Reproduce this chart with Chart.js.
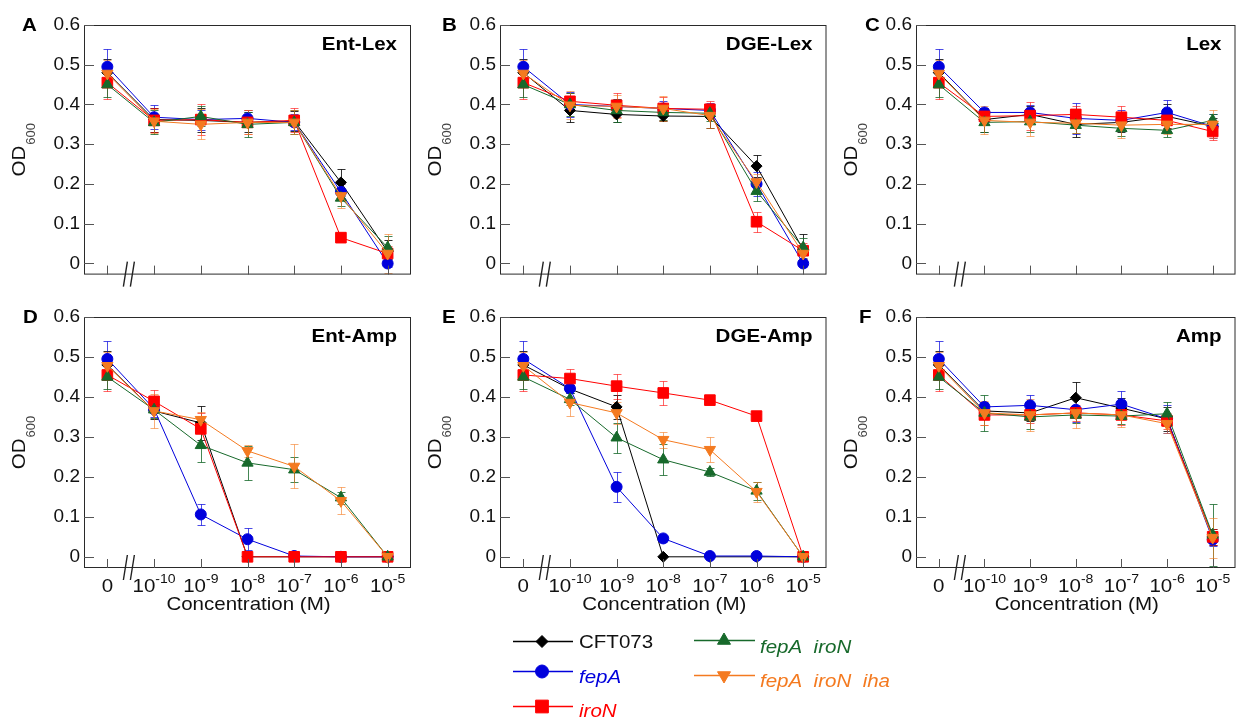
<!DOCTYPE html>
<html><head><meta charset="utf-8">
<script src="https://cdn.jsdelivr.net/npm/chart.js@4.4.0/dist/chart.umd.min.js"></script>
<style>
html,body{margin:0;padding:0;background:#fff;width:1243px;height:719px;overflow:hidden;position:relative}
canvas{position:absolute}
</style></head><body>
<script>
// ---------- DATA ----------
const concLabels = ['0','10^-10','10^-9','10^-8','10^-7','10^-6','10^-5'];
const strainNames = ['CFT073','fepA','iroN','fepA  iroN','fepA  iroN  iha'];
const yTicks = [0,0.1,0.2,0.3,0.4,0.5,0.6];
const panelLetters = ['A','B','C','D','E','F'];
const panelTitles = ['Ent-Lex','DGE-Lex','Lex','Ent-Amp','DGE-Amp','Amp'];
const xAxisTitle = 'Concentration (M)';

// A: Ent-Lex
const entLex_CFT073 = [0.48, 0.362, 0.36, 0.355, 0.358, 0.204, 0.03];
const entLex_fepA   = [0.495, 0.368, 0.362, 0.365, 0.355, 0.18, 0.0];
const entLex_iroN   = [0.455, 0.36, 0.362, 0.355, 0.36, 0.065, 0.025];
const entLex_fepAiroN    = [0.45, 0.355, 0.37, 0.35, 0.355, 0.165, 0.04];
const entLex_fepAiroNiha = [0.478, 0.358, 0.35, 0.355, 0.355, 0.17, 0.025];
const entLex_CFT073_err = [0.035, 0.03, 0.03, 0.025, 0.025, 0.034, 0.03];
const entLex_fepA_err   = [0.044, 0.03, 0.025, 0.02, 0.02, 0.02, 0.01];
const entLex_iroN_err   = [0.04, 0.03, 0.04, 0.03, 0.03, 0.0, 0.02];
const entLex_fepAiroN_err    = [0.03, 0.03, 0.025, 0.032, 0.03, 0.02, 0.028];
const entLex_fepAiroNiha_err = [0.035, 0.03, 0.038, 0.03, 0.03, 0.03, 0.05];

// B: DGE-Lex
const dgeLex_CFT073 = [0.48, 0.385, 0.375, 0.371, 0.37, 0.245, 0.035];
const dgeLex_fepA   = [0.495, 0.40, 0.395, 0.39, 0.385, 0.2, 0.0];
const dgeLex_iroN   = [0.455, 0.408, 0.398, 0.39, 0.388, 0.105, 0.032];
const dgeLex_fepAiroN    = [0.45, 0.40, 0.385, 0.38, 0.378, 0.182, 0.04];
const dgeLex_fepAiroNiha = [0.478, 0.398, 0.395, 0.39, 0.372, 0.205, 0.025];
const dgeLex_CFT073_err = [0.035, 0.03, 0.02, 0.012, 0.03, 0.028, 0.038];
const dgeLex_fepA_err   = [0.044, 0.032, 0.02, 0.02, 0.02, 0.03, 0.01];
const dgeLex_iroN_err   = [0.04, 0.022, 0.03, 0.03, 0.02, 0.025, 0.02];
const dgeLex_fepAiroN_err    = [0.03, 0.03, 0.03, 0.02, 0.02, 0.024, 0.025];
const dgeLex_fepAiroNiha_err = [0.035, 0.035, 0.03, 0.032, 0.03, 0.02, 0.02];

// C: Lex
const lex_CFT073 = [0.48, 0.362, 0.375, 0.35, 0.355, 0.37, 0.345];
const lex_fepA   = [0.495, 0.38, 0.38, 0.365, 0.36, 0.38, 0.345];
const lex_iroN   = [0.455, 0.37, 0.372, 0.375, 0.368, 0.36, 0.332];
const lex_fepAiroN    = [0.45, 0.355, 0.357, 0.348, 0.34, 0.335, 0.36];
const lex_fepAiroNiha = [0.478, 0.36, 0.355, 0.353, 0.348, 0.35, 0.35];
const lex_CFT073_err = [0.035, 0.03, 0.02, 0.032, 0.025, 0.03, 0.02];
const lex_fepA_err   = [0.044, 0.012, 0.018, 0.038, 0.025, 0.032, 0.03];
const lex_iroN_err   = [0.04, 0.02, 0.035, 0.02, 0.027, 0.02, 0.022];
const lex_fepAiroN_err    = [0.03, 0.025, 0.025, 0.02, 0.02, 0.017, 0.015];
const lex_fepAiroNiha_err = [0.035, 0.035, 0.035, 0.025, 0.033, 0.025, 0.035];

// D: Ent-Amp
const entAmp_CFT073 = [0.48, 0.365, 0.335, 0, 0, 0, 0];
const entAmp_fepA   = [0.495, 0.37, 0.106, 0.044, 0.002, 0.0, 0.0];
const entAmp_iroN   = [0.455, 0.389, 0.32, 0, 0, 0, 0];
const entAmp_fepAiroN    = [0.45, 0.368, 0.279, 0.235, 0.218, 0.148, 0.0];
const entAmp_fepAiroNiha = [0.478, 0.365, 0.343, 0.265, 0.226, 0.14, 0.0];
const entAmp_CFT073_err = [0.035, 0.02, 0.043, 0, 0, 0, 0];
const entAmp_fepA_err   = [0.044, 0.02, 0.027, 0.028, 0, 0, 0];
const entAmp_iroN_err   = [0.04, 0.029, 0.04, 0, 0, 0, 0];
const entAmp_fepAiroN_err    = [0.03, 0.02, 0.041, 0.043, 0.032, 0.015, 0];
const entAmp_fepAiroNiha_err = [0.035, 0.042, 0.02, 0.015, 0.055, 0.034, 0];

// E: DGE-Amp
const dgeAmp_CFT073 = [0.48, 0.42, 0.375, 0.0, 0.0, 0.0, 0.0];
const dgeAmp_fepA   = [0.495, 0.421, 0.175, 0.046, 0.002, 0.002, 0.0];
const dgeAmp_iroN   = [0.455, 0.446, 0.427, 0.41, 0.392, 0.352, 0.0];
const dgeAmp_fepAiroN    = [0.45, 0.394, 0.298, 0.243, 0.212, 0.165, 0.0];
const dgeAmp_fepAiroNiha = [0.478, 0.386, 0.36, 0.293, 0.268, 0.163, 0.0];
const dgeAmp_CFT073_err = [0.035, 0.01, 0.03, 0, 0, 0, 0];
const dgeAmp_fepA_err   = [0.044, 0.01, 0.037, 0.008, 0, 0, 0];
const dgeAmp_iroN_err   = [0.04, 0.024, 0.031, 0.03, 0.008, 0.005, 0];
const dgeAmp_fepAiroN_err    = [0.03, 0.015, 0.038, 0.038, 0.01, 0.022, 0];
const dgeAmp_fepAiroNiha_err = [0.035, 0.034, 0.027, 0.02, 0.032, 0.025, 0];

// F: Amp
const amp_CFT073 = [0.48, 0.365, 0.36, 0.398, 0.372, 0.345, 0.05];
const amp_fepA   = [0.495, 0.375, 0.379, 0.368, 0.382, 0.345, 0.043];
const amp_iroN   = [0.455, 0.355, 0.355, 0.36, 0.355, 0.34, 0.05];
const amp_fepAiroN    = [0.45, 0.36, 0.35, 0.355, 0.352, 0.358, 0.055];
const amp_fepAiroNiha = [0.478, 0.36, 0.355, 0.36, 0.355, 0.333, 0.048];
const amp_CFT073_err = [0.035, 0.02, 0.02, 0.04, 0.025, 0.03, 0.02];
const amp_fepA_err   = [0.044, 0.012, 0.026, 0.03, 0.033, 0.035, 0.015];
const amp_iroN_err   = [0.04, 0.025, 0.02, 0.02, 0.025, 0.02, 0.02];
const amp_fepAiroN_err    = [0.03, 0.045, 0.03, 0.02, 0.02, 0.03, 0.078];
const amp_fepAiroNiha_err = [0.035, 0.03, 0.04, 0.038, 0.03, 0.023, 0.05];

const panelSeries = [
  [entLex_CFT073, entLex_fepA, entLex_iroN, entLex_fepAiroN, entLex_fepAiroNiha],
  [dgeLex_CFT073, dgeLex_fepA, dgeLex_iroN, dgeLex_fepAiroN, dgeLex_fepAiroNiha],
  [lex_CFT073, lex_fepA, lex_iroN, lex_fepAiroN, lex_fepAiroNiha],
  [entAmp_CFT073, entAmp_fepA, entAmp_iroN, entAmp_fepAiroN, entAmp_fepAiroNiha],
  [dgeAmp_CFT073, dgeAmp_fepA, dgeAmp_iroN, dgeAmp_fepAiroN, dgeAmp_fepAiroNiha],
  [amp_CFT073, amp_fepA, amp_iroN, amp_fepAiroN, amp_fepAiroNiha]
];
const panelErrors = [
  [entLex_CFT073_err, entLex_fepA_err, entLex_iroN_err, entLex_fepAiroN_err, entLex_fepAiroNiha_err],
  [dgeLex_CFT073_err, dgeLex_fepA_err, dgeLex_iroN_err, dgeLex_fepAiroN_err, dgeLex_fepAiroNiha_err],
  [lex_CFT073_err, lex_fepA_err, lex_iroN_err, lex_fepAiroN_err, lex_fepAiroNiha_err],
  [entAmp_CFT073_err, entAmp_fepA_err, entAmp_iroN_err, entAmp_fepAiroN_err, entAmp_fepAiroNiha_err],
  [dgeAmp_CFT073_err, dgeAmp_fepA_err, dgeAmp_iroN_err, dgeAmp_fepAiroN_err, dgeAmp_fepAiroNiha_err],
  [amp_CFT073_err, amp_fepA_err, amp_iroN_err, amp_fepAiroN_err, amp_fepAiroNiha_err]
];

// ---------- STYLE / LAYOUT ----------
const FONT = '"Liberation Sans", Arial, sans-serif';
const STRETCH = 1.08;
const colors = ['#000000','#0000DC','#FF0000','#17692B','#F47A20'];
const errColors = ['rgba(0,0,0,0.8)','rgba(0,0,220,0.7)','rgba(255,0,0,0.6)','rgba(23,105,43,0.8)','rgba(244,122,32,0.6)'];
const pStyles = ['rectRot','circle','rect','triangle','triangle'];
const pRot = [0,0,0,0,180];
const pRad = [5.5,5.5,7.5,6.5,6.5];

const rows = [{ct:0, ch:290, T:25, B:276}, {ct:290, ch:330, T:317, B:568}];
const cols = [{cl:0, cw:420, L:84, R:411}, {cl:420, cw:415, L:500, R:827}, {cl:835, cw:409, L:916, R:1244}];
const letterX = [22, 442, 865, 23, 442, 859];

function sText(ctx, txt, x, y, align){
  ctx.save(); ctx.translate(x, y); ctx.scale(STRETCH, 1);
  ctx.textAlign = align; ctx.textBaseline = 'alphabetic';
  ctx.fillText(txt, 0, 0); ctx.restore();
}
function drawPow(ctx, label, cx, baseY){
  const parts = label.split('^');
  ctx.font = '19px ' + FONT; const w1 = ctx.measureText(parts[0]).width * STRETCH;
  let w2 = 0;
  if (parts[1]) { ctx.font = '13px ' + FONT; w2 = ctx.measureText(parts[1]).width * STRETCH; }
  const x0 = cx - (w1 + w2) / 2;
  ctx.font = '19px ' + FONT; sText(ctx, parts[0], x0, baseY, 'left');
  if (parts[1]) { ctx.font = '13px ' + FONT; sText(ctx, parts[1], x0 + w1, baseY - 9, 'left'); }
}

function makePanel(idx){
  const row = rows[Math.floor(idx / 3)], col = cols[idx % 3];
  const isBottom = idx >= 3;
  const cv = document.createElement('canvas');
  cv.width = col.cw; cv.height = row.ch;
  cv.style.left = col.cl + 'px'; cv.style.top = row.ct + 'px';
  document.body.appendChild(cv);
  const series = panelSeries[idx], errs = panelErrors[idx];
  const datasets = series.map((vals, s) => ({
    label: strainNames[s],
    data: vals.map((v, i) => ({x: i, y: v})),
    borderColor: colors[s], backgroundColor: colors[s],
    borderWidth: 1, tension: 0, fill: false,
    pointStyle: pStyles[s], rotation: pRot[s], pointRadius: pRad[s],
    pointBorderWidth: 1, pointBorderColor: colors[s], pointBackgroundColor: colors[s],
    order: 5 - s
  }));
  const deco = {
    id: 'deco' + idx,
    beforeDatasetsDraw(chart){
      const ctx = chart.ctx, ys = chart.scales.y, xs = chart.scales.x;
      ctx.save();
      for (let s = 0; s < series.length; s++){
        ctx.strokeStyle = errColors[s]; ctx.lineWidth = 1;
        series[s].forEach((v, i) => {
          const e = errs[s][i]; if (!e) return;
          const x = Math.round(xs.getPixelForValue(i)) + 0.5;
          const y1 = Math.round(ys.getPixelForValue(v + e)) + 0.5;
          const y2 = Math.round(ys.getPixelForValue(v - e)) + 0.5;
          ctx.beginPath();
          ctx.moveTo(x, y1); ctx.lineTo(x, y2);
          ctx.moveTo(x - 4, y1); ctx.lineTo(x + 4, y1);
          ctx.moveTo(x - 4, y2); ctx.lineTo(x + 4, y2);
          ctx.stroke();
        });
      }
      ctx.restore();
    },
    afterDraw(chart){
      const ctx = chart.ctx, ys = chart.scales.y, xs = chart.scales.x, a = chart.chartArea;
      ctx.save();
      // frame
      ctx.strokeStyle = '#2a2a2a'; ctx.lineWidth = 1;
      ctx.strokeRect(a.left + 0.5, a.top + 0.5, a.right - a.left - 1, a.bottom - a.top - 1);
      // inward ticks
      ctx.strokeStyle = '#555'; ctx.beginPath();
      yTicks.forEach(v => { const y = Math.round(ys.getPixelForValue(v)) + 0.5; ctx.moveTo(a.left, y); ctx.lineTo(a.left + 10, y); });
      concLabels.forEach((l, i) => { const x = Math.round(xs.getPixelForValue(i)) + 0.5; ctx.moveTo(x, a.bottom); ctx.lineTo(x, a.bottom - 9); });
      ctx.stroke();
      // axis break mark
      const bx = xs.getPixelForValue(0.45);
      ctx.strokeStyle = '#222'; ctx.lineWidth = 1.4; ctx.beginPath();
      ctx.moveTo(bx - 5, a.bottom + 12); ctx.lineTo(bx - 1, a.bottom - 13);
      ctx.moveTo(bx + 2, a.bottom + 12); ctx.lineTo(bx + 6, a.bottom - 13);
      ctx.stroke();
      ctx.fillStyle = '#111';
      // x tick labels & title
      if (isBottom){
        concLabels.forEach((l, i) => drawPow(ctx, l, xs.getPixelForValue(i), a.bottom + 24));
        ctx.font = '19px ' + FONT;
        sText(ctx, xAxisTitle, (a.left + Math.min(a.right, 1243 - col.cl)) / 2 + 1, a.bottom + 42, 'center');
      }
      // y title OD600
      ctx.save();
      ctx.translate(a.left - 59, (a.top + a.bottom) / 2);
      ctx.rotate(-Math.PI / 2);
      ctx.scale(STRETCH, 1);
      ctx.textAlign = 'left'; ctx.textBaseline = 'alphabetic';
      ctx.font = '19px ' + FONT; const wOD = ctx.measureText('OD').width;
      ctx.font = '12px ' + FONT; const wSub = ctx.measureText('600').width;
      const sx = -(wOD + wSub + 1) / 2;
      ctx.font = '19px ' + FONT; ctx.fillStyle = '#111'; ctx.fillText('OD', sx, 0);
      ctx.font = '12px ' + FONT; ctx.fillStyle = '#444'; ctx.fillText('600', sx + wOD + 1, 10);
      ctx.restore();
      // panel letter
      ctx.fillStyle = '#000';
      ctx.font = 'bold 19px ' + FONT;
      sText(ctx, panelLetters[idx], letterX[idx] - col.cl, a.top + 6, 'left');
      // panel title
      const tr = Math.min(a.right, 1243 - col.cl) - 14;
      sText(ctx, panelTitles[idx], tr, a.top + 25, 'right');
      ctx.restore();
    }
  };
  new Chart(cv, {
    type: 'line',
    data: {datasets},
    options: {
      responsive: false, animation: false, devicePixelRatio: 1, events: [],
      layout: {padding: {left: 0, top: row.T - row.ct, right: (col.cl + col.cw) - col.R, bottom: (row.ct + row.ch) - row.B}},
      plugins: {legend: {display: false}, tooltip: {enabled: false}},
      scales: {
        x: {type: 'linear', min: -0.5, max: 6.5, display: false},
        y: {
          type: 'linear', min: -0.028, max: 0.6,
          afterBuildTicks: ax => { ax.ticks = yTicks.map(v => ({value: v})); },
          afterFit: sc => { sc.width = col.L - col.cl; },
          grid: {display: false, drawTicks: false}, border: {display: false},
          ticks: {font: {family: FONT, size: 19}, color: '#111', padding: 4,
                  callback: v => (v === 0 ? '0' : v.toFixed(1))}
        }
      }
    },
    plugins: [deco]
  });
}
for (let i = 0; i < 6; i++) makePanel(i);

// ---------- LEGEND ----------
function drawMarker(ctx, style, x, y, r, rot){
  ctx.beginPath();
  if (style === 'circle') ctx.arc(x, y, r, 0, Math.PI * 2);
  else if (style === 'rect') { const s = r * Math.SQRT1_2; ctx.rect(x - s, y - s, 2 * s, 2 * s); }
  else if (style === 'rectRot') { ctx.moveTo(x - r, y); ctx.lineTo(x, y - r); ctx.lineTo(x + r, y); ctx.lineTo(x, y + r); ctx.closePath(); }
  else if (style === 'triangle') {
    let rad = rot * Math.PI / 180;
    ctx.moveTo(x + Math.sin(rad) * r, y - Math.cos(rad) * r);
    rad += 2 * Math.PI / 3; ctx.lineTo(x + Math.sin(rad) * r, y - Math.cos(rad) * r);
    rad += 2 * Math.PI / 3; ctx.lineTo(x + Math.sin(rad) * r, y - Math.cos(rad) * r);
    ctx.closePath();
  }
  ctx.fill(); ctx.stroke();
}
(function(){
  const LX = 500, LY = 620;
  const cv = document.createElement('canvas');
  cv.width = 420; cv.height = 99; cv.style.left = LX + 'px'; cv.style.top = LY + 'px';
  document.body.appendChild(cv);
  const ctx = cv.getContext('2d');
  const pos = [
    {x1: 513, x2: 573, mx: 542, y: 641, tx: 579, tb: 648},
    {x1: 513, x2: 573, mx: 542, y: 671, tx: 579, tb: 683},
    {x1: 513, x2: 573, mx: 542, y: 706, tx: 579, tb: 717},
    {x1: 694, x2: 755, mx: 724, y: 640, tx: 760, tb: 653},
    {x1: 694, x2: 755, mx: 724, y: 675, tx: 760, tb: 687}
  ];
  const lRad = [6, 6.5, 9, 7.5, 7.5];
  strainNames.forEach((name, s) => {
    const p = pos[s];
    ctx.strokeStyle = colors[s]; ctx.fillStyle = colors[s]; ctx.lineWidth = 1.6;
    ctx.beginPath(); ctx.moveTo(p.x1 - LX, p.y - LY + 0.5); ctx.lineTo(p.x2 - LX, p.y - LY + 0.5); ctx.stroke();
    ctx.lineWidth = 1;
    drawMarker(ctx, pStyles[s], p.mx - LX, p.y - LY + 0.5, lRad[s], pRot[s]);
    ctx.font = (s === 0 ? '' : 'italic ') + '19px ' + FONT;
    ctx.fillStyle = s === 0 ? '#111' : colors[s];
    sText(ctx, name, p.tx - LX, p.tb - LY, 'left');
  });
})();
</script>
</body></html>
